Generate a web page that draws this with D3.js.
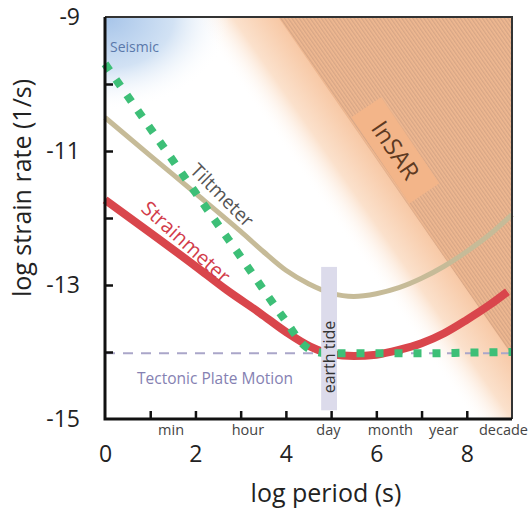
<!DOCTYPE html>
<html><head><meta charset="utf-8">
<script src="https://cdn.jsdelivr.net/npm/d3@7"></script>
<style>body{margin:0;background:#fff}svg{display:block}text{font-family:"Open Sans",sans-serif}</style>
</head><body><svg id="c" width="529" height="513"></svg>
<script>
// ---- data ----
const xDomain = [0, 9];
const yDomain = [-15, -9];
const xNumberTicks = [0, 2, 4, 6, 8];
const xMinorTicks = [1, 2, 3, 4, 5, 6, 7, 8];
const yMinorTicks = [-14, -13, -12, -11, -10];
const yLabelTicks = [-15, -13, -11, -9];
const periodLabels = ["min", "hour", "day", "month", "year", "decade"];
const periodPositions = [1.45, 3.15, 4.93, 6.3, 7.48, 8.8];

const seismometer = [[0,-9.7],[1,-10.66],[2,-11.62],[3,-12.58],[4,-13.54],[4.4,-13.9],[4.7,-14.0],[5,-14.02],[6,-14.02],[7,-14.02],[8,-14.01],[9,-14.0]];
const tiltmeter = [[0,-10.5],[1,-11.07],[2,-11.63],[3,-12.2],[3.5,-12.5],[4,-12.78],[4.5,-12.98],[5,-13.12],[5.5,-13.17],[6,-13.13],[6.5,-13.04],[7,-12.9],[7.5,-12.72],[8,-12.5],[8.5,-12.25],[9,-11.95]];
const strainmeter = [[0,-11.73],[1,-12.22],[2,-12.72],[2.7,-13.08],[3.43,-13.42],[4,-13.7],[4.54,-13.92],[5,-14.03],[5.5,-14.06],[6,-14.04],[6.5,-13.97],[7,-13.87],[7.5,-13.72],[8,-13.52],[8.5,-13.3],[8.9,-13.1]];
const tectonicRate = -14.02;
const earthTideX = [4.78, 5.13];
const earthTideY = [-14.87, -12.73];
const insarEdge = [[3.83, -9], [9, -9], [9, -14.05]];

// ---- layout ----
const svg = d3.select("#c");
const x = d3.scaleLinear().domain(xDomain).range([105, 512]);
const y = d3.scaleLinear().domain(yDomain).range([419, 17]);
const X0 = x(0), X1 = x(9), Y0 = y(-15), Y1 = y(-9);
const FONT = "'Open Sans',sans-serif";

const defs = svg.append("defs");
svg.append("clipPath").attr("id","plot").append("rect")
  .attr("x",X0).attr("y",Y1).attr("width",X1-X0).attr("height",Y0-Y1);

// orange gradient (perpendicular to InSAR edge)
const og = defs.append("linearGradient").attr("id","og").attr("gradientUnits","userSpaceOnUse")
  .attr("x1",192).attr("y1",17).attr("x2",192+0.82*95).attr("y2",17-0.57*95);
og.append("stop").attr("offset",0).attr("stop-color","#ffffff").attr("stop-opacity",0);
og.append("stop").attr("offset",0.35).attr("stop-color","#fbe1cc").attr("stop-opacity",1);
og.append("stop").attr("offset",1).attr("stop-color","#f5b88c");

// seismic blue radial gradient
const bg = defs.append("radialGradient").attr("id","bg").attr("gradientUnits","userSpaceOnUse")
  .attr("cx",X0).attr("cy",Y1).attr("r",125)
  .attr("gradientTransform",`translate(${X0},${Y1}) scale(1,0.75) translate(${-X0},${-Y1})`);
bg.append("stop").attr("offset",0).attr("stop-color","#a6c4e9");
bg.append("stop").attr("offset",0.55).attr("stop-color","#d2e2f4");
bg.append("stop").attr("offset",1).attr("stop-color","#ffffff").attr("stop-opacity",0);

// hatch
const hp = defs.append("pattern").attr("id","hatch").attr("patternUnits","userSpaceOnUse")
  .attr("width",3).attr("height",3).attr("patternTransform","rotate(-35)");
hp.append("rect").attr("width",3).attr("height",3).attr("fill","#f0b991");
hp.append("line").attr("x1",0.75).attr("x2",0.75).attr("y1",0).attr("y2",3)
  .attr("stroke","#c99c80").attr("stroke-width",0.9);

const bgG = svg.append("g").attr("clip-path","url(#plot)");
bgG.append("rect").attr("x",X0).attr("y",Y1).attr("width",X1-X0).attr("height",Y0-Y1).attr("fill","url(#og)");
bgG.append("rect").attr("x",X0).attr("y",Y1).attr("width",X1-X0).attr("height",Y0-Y1).attr("fill","url(#bg)");
bgG.append("path").attr("d", d3.line().x(d=>x(d[0])).y(d=>y(d[1]))(insarEdge)+"Z").attr("fill","url(#hatch)");

// InSAR label box
const ix = x(6.42), iy = y(-10.99);
const ig = svg.append("g").attr("transform",`translate(${ix},${iy}) rotate(56)`);
ig.append("rect").attr("x",-52).attr("y",-18).attr("width",104).attr("height",36).attr("fill","#f3b589");
ig.append("text").attr("text-anchor","middle").attr("dy","0.35em").attr("font-size",24)
  .attr("fill","#5e3a22").text("InSAR");

// tectonic dashed
svg.append("line").attr("x1",X0).attr("x2",X1).attr("y1",y(tectonicRate)).attr("y2",y(tectonicRate))
  .attr("stroke","#aaa6c9").attr("stroke-width",2).attr("stroke-dasharray","10 8");

// curves
const line = d3.line().x(d=>x(d[0])).y(d=>y(d[1])).curve(d3.curveMonotoneX);
svg.append("path").attr("d",line(tiltmeter)).attr("fill","none").attr("stroke","#c6bb98").attr("stroke-width",5);
svg.append("path").attr("d",line(strainmeter)).attr("fill","none").attr("stroke","#d9464c").attr("stroke-width",8).attr("stroke-linecap","butt");
svg.append("path").attr("d",line(seismometer)).attr("fill","none").attr("stroke","#3dbf77").attr("stroke-width",8).attr("stroke-dasharray","8 11");

// earth tide bar
svg.append("rect").attr("x",x(earthTideX[0])).attr("y",y(earthTideY[1]))
  .attr("width",x(earthTideX[1])-x(earthTideX[0])).attr("height",y(earthTideY[0])-y(earthTideY[1]))
  .attr("fill","#dcdbeb");
svg.append("text").attr("transform",`translate(${(x(earthTideX[0])+x(earthTideX[1]))/2},${y(-14.0)+5}) rotate(-90)`)
  .attr("text-anchor","middle").attr("dy","0.35em").attr("font-size",16).attr("fill","#333").text("earth tide");

// labels
svg.append("text").attr("x",110).attr("y",52).attr("font-size",14).attr("fill","#5a78aa").text("Seismic");
svg.append("text").attr("x",137).attr("y",384).attr("font-size",15.5).attr("fill","#8581b2").text("Tectonic Plate Motion");
svg.append("text").attr("transform",`translate(${x(2.59)},${y(-11.66)}) rotate(45)`)
  .attr("text-anchor","middle").attr("dy","0.35em").attr("font-size",19).attr("fill","#555").text("Tiltmeter");
svg.append("text").attr("transform",`translate(${x(1.79)},${y(-12.36)}) rotate(42)`)
  .attr("text-anchor","middle").attr("dy","0.35em").attr("font-size",20).attr("fill","#d23c4a").text("Strainmeter");

// frame
svg.append("path").attr("d",`M${X0},${Y1}H${X1}V${Y0}`).attr("fill","none").attr("stroke","#333").attr("stroke-width",2);

// axes
const fmt = d => String(d);
const yAxis = svg.append("g").attr("transform",`translate(${X0},0)`)
  .call(d3.axisLeft(y).tickValues(yMinorTicks).tickSize(-8).tickFormat(""));
const yAxisL = svg.append("g").attr("transform",`translate(${X0},0)`)
  .call(d3.axisLeft(y).tickValues(yLabelTicks).tickSize(0).tickPadding(25).tickFormat(fmt));
const xAxis = svg.append("g").attr("transform",`translate(0,${Y0})`)
  .call(d3.axisBottom(x).tickValues(xMinorTicks).tickSize(-8).tickFormat(""));
const xAxisN = svg.append("g").attr("transform",`translate(0,${Y0})`)
  .call(d3.axisBottom(x).tickValues(xNumberTicks).tickSize(0).tickPadding(27).tickFormat(fmt));
const xAxisP = svg.append("g").attr("transform",`translate(0,${Y0})`)
  .call(d3.axisBottom(x).tickValues(periodPositions).tickSize(0).tickPadding(6).tickFormat((d,i)=>periodLabels[i]));
[yAxis,yAxisL,xAxis,xAxisN,xAxisP].forEach(g=>g.select(".domain").remove());
[yAxis,xAxis].forEach(g=>g.selectAll(".tick line").attr("stroke","#111").attr("stroke-width",2.5));
yAxisL.selectAll("text").attr("font-size",23).attr("fill","#222").style("font-family",FONT);
xAxisN.selectAll("text").attr("font-size",23).attr("fill","#222").style("font-family",FONT);
xAxisP.selectAll("text").attr("font-size",14.5).attr("fill","#444").style("font-family",FONT);

svg.append("path").attr("d",`M${X0},${Y1}V${Y0}H${X1}`).attr("fill","none").attr("stroke","#111").attr("stroke-width",3);

// titles
svg.append("text").attr("x",326).attr("y",502).attr("text-anchor","middle").attr("font-size",25).attr("fill","#222").text("log period (s)");
svg.append("text").attr("transform","translate(22,188) rotate(-90)").attr("text-anchor","middle").attr("dy","0.35em")
  .attr("font-size",25).attr("fill","#222").text("log strain rate (1/s)");
</script></body></html>
